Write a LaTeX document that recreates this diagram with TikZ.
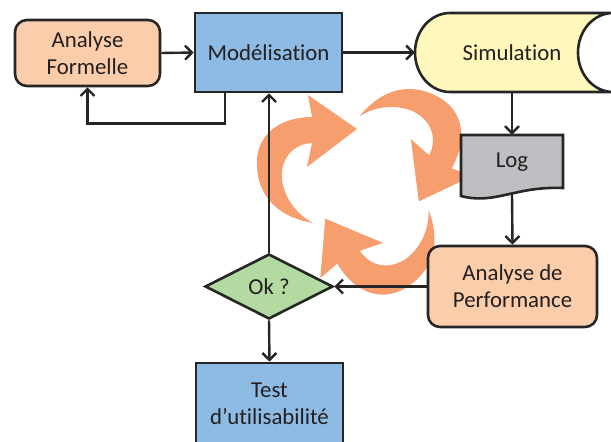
\documentclass[tikz,border=0pt]{standalone}
\usepackage{fontspec}
\setmainfont[Ligatures={NoCommon,NoContextual,NoRequired},Contextuals=NoAlternate]{Carlito}
\usetikzlibrary{arrows.meta,shapes.geometric,calc}
\definecolor{peach}{RGB}{251,205,170}
\definecolor{boxblue}{RGB}{141,187,227}
\definecolor{simyellow}{RGB}{255,247,188}
\definecolor{loggray}{RGB}{190,190,194}
\definecolor{okgreen}{RGB}{178,218,161}
\definecolor{cycleorange}{RGB}{246,158,110}
\definecolor{lineC}{RGB}{38,38,38}
\definecolor{txt}{RGB}{35,31,32}
\begin{document}
\begin{tikzpicture}[x=1pt,y=-1pt,
  lbl/.style={text=txt, align=center, font=\fontsize{22.8}{27}\selectfont, inner sep=0pt},
  box/.style={lbl, draw=lineC, line width=2.6pt},
  conn/.style={draw=lineC, line width=2.4pt, -{Straight Barb[length=7pt,width=14pt]}},
  cyc/.style={fill=cycleorange}
]
\useasboundingbox (0,0) rectangle (611,442);

% circular arrows (background)
\foreach \a in {0,-120,120}{
  \fill[cyc, rotate around={\a:(367,183)}]
    (313,223) .. controls (272,216) and (255,190) .. (257,158)
    .. controls (260,130) and (285,117) .. (312,117)
    -- (308,95) -- (357,129) -- (307,167) -- (312,143)
    .. controls (292,144) and (280,160) .. (282,180)
    .. controls (285,200) and (298,215) .. (313,223) -- cycle;
}

% nodes
\node[box, fill=peach, rounded corners=12pt, minimum width=145pt, minimum height=66pt] (af) at (87.5,53) {Analyse\\Formelle};
\node[box, fill=boxblue, minimum width=147pt, minimum height=79pt] (mod) at (268.5,52.5) {Modélisation};

\filldraw[fill=simyellow, draw=lineC, line width=2.6pt]
  (613,13) -- (450,13) arc[start angle=-90, end angle=-270, x radius=35, y radius=39.5]
  -- (613,92) arc[start angle=90, end angle=270, x radius=35, y radius=39.5] -- cycle;
\node[lbl, minimum width=196pt, minimum height=79pt] (sim) at (513,52.5) {};
\node[lbl] at (512,52.5) {Simulation};

\filldraw[fill=loggray, draw=lineC, line width=2.6pt]
  (461,135) -- (563,135) -- (563,188)
  .. controls (515,186) and (495,205) .. (461,196) -- cycle;
\node[lbl, minimum width=102pt, minimum height=59pt] (log) at (512,164.5) {};
\node[lbl] at (512,162.5) {Log};

\node[box, fill=peach, rounded corners=12pt, minimum width=169pt, minimum height=81pt] (adp) at (512.5,286.5) {Analyse de\\Performance};
\node[box, diamond, fill=okgreen, minimum width=128pt, minimum height=65pt, aspect=1.97] (ok) at (269,286.5) {Ok ?};
\node[box, fill=boxblue, minimum width=147pt, minimum height=82pt] (test) at (269.5,404) {Test\\d’utilisabilité};

% connectors
\draw[conn] (af.east) -- (mod.west);
\draw[conn] ([xshift=31pt]mod.south west) |- ([yshift=-36pt]af.south) -- (af.south);
\draw[conn] (mod.east) -- (sim.west);
\draw[conn] (sim.south -| log.north) -- (log.north);
\draw[conn] (log.south) -- (adp.north);
\draw[conn] (adp.west) -- (ok.east);
\draw[conn] (ok.north) -- (ok.north |- mod.south);
\draw[conn] (ok.south) -- (test.north);
\end{tikzpicture}
\end{document}
